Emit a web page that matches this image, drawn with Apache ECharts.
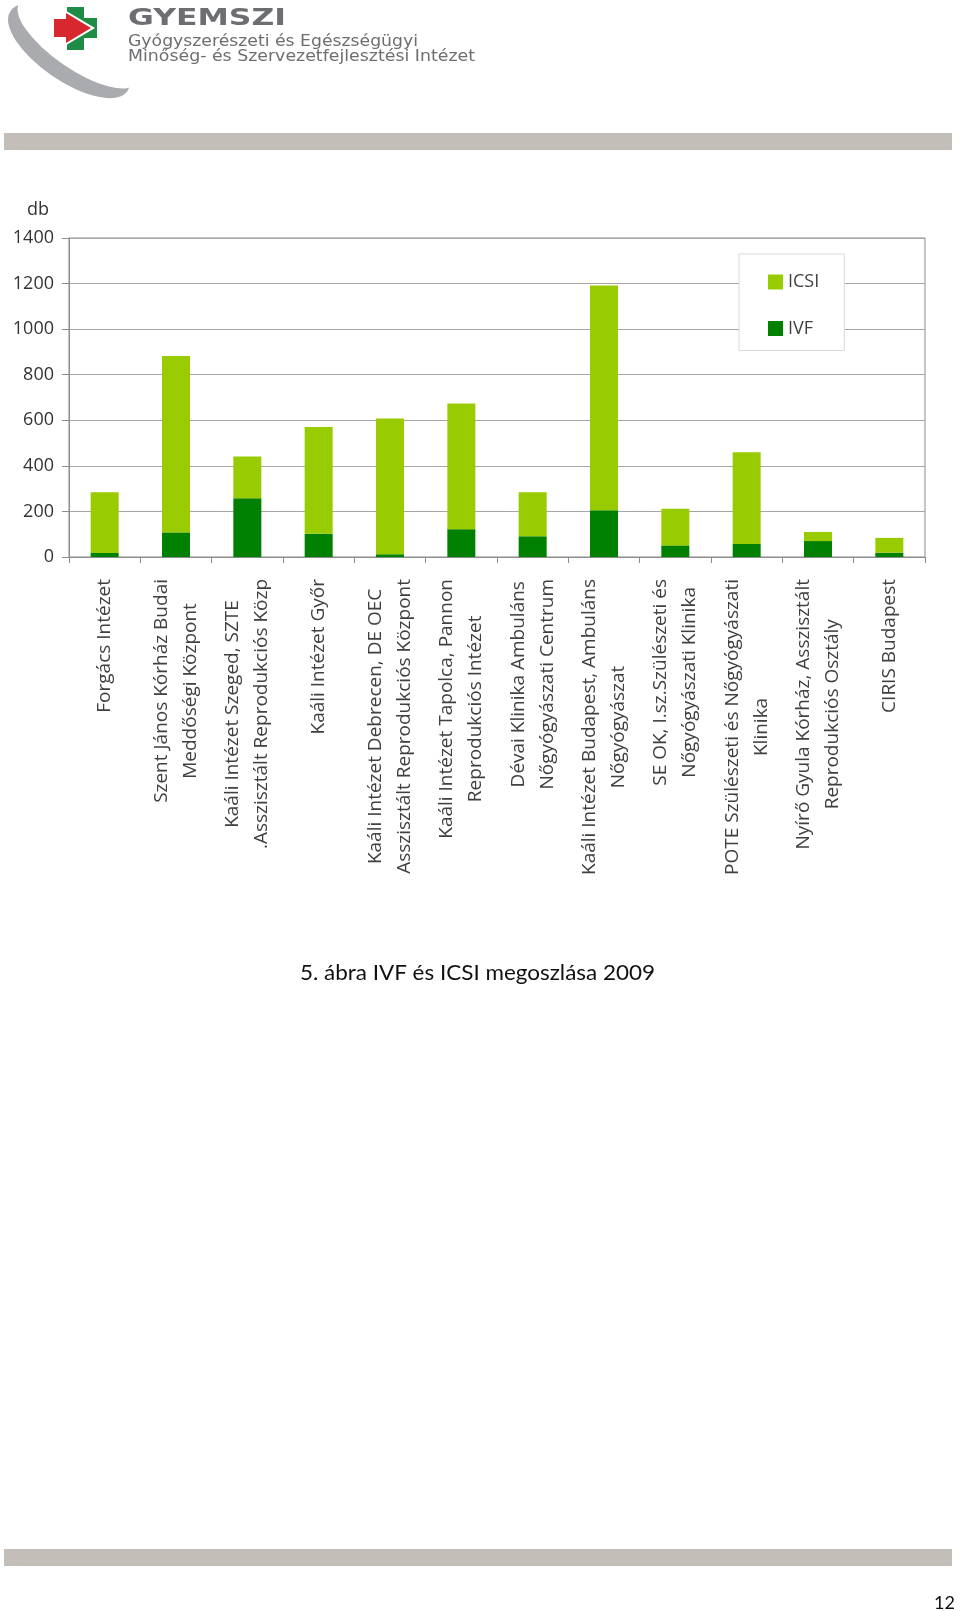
<!DOCTYPE html>
<html>
<head>
<meta charset="utf-8">
<script src="https://cdn.jsdelivr.net/npm/echarts@6/dist/echarts.min.js"></script>
<style>
html,body{margin:0;padding:0;background:#fff;}
#c{width:960px;height:1611px;}
</style>
</head>
<body>
<div id="c"></div>
<script>
// ---- data ----
const categories = [
  'Forgács Intézet',
  'Szent János Kórház Budai\nMeddőségi Központ',
  'Kaáli Intézet Szeged, SZTE\n.Asszisztált Reprodukciós Közp',
  'Kaáli Intézet Győr',
  'Kaáli Intézet Debrecen, DE OEC\nAsszisztált Reprodukciós Központ',
  'Kaáli Intézet Tapolca, Pannon\nReprodukciós Intézet',
  'Dévai Klinika Ambuláns\nNőgyógyászati Centrum',
  'Kaáli Intézet Budapest, Ambuláns\nNőgyógyászat',
  'SE OK, I.sz.Szülészeti és\nNőgyógyászati Klinika',
  'POTE Szülészeti és Nőgyógyászati\nKlinika',
  'Nyírő Gyula Kórház, Asszisztált\nReprodukciós Osztály',
  'CIRIS Budapest'
];
const ivfValues  = [18, 108, 258, 102, 12, 122, 91, 205, 51, 57, 70, 19];
const icsiValues = [266, 774, 183, 468, 596, 552, 193, 987, 161, 403, 40, 65];
const yMin = 0, yMax = 1400, yInterval = 200;
const yAxisName = 'db';
const legendNames = ['ICSI', 'IVF'];
const captionText = '5. ábra IVF és ICSI megoszlása 2009';
const pageNumber = '12';
const orgName = 'GYEMSZI';
const orgLine1 = 'Gyógyszerészeti és Egészségügyi';
const orgLine2 = 'Minőség- és Szervezetfejlesztési Intézet';

// ---- helpers ----
const mctx = document.createElement('canvas').getContext('2d');
function fit(text, font, w) { mctx.font = font; return w / mctx.measureText(text).width; }

const grayText = '#6d6e71';
const fGy = '600 23px "DejaVu Sans"';
const fSub = '15px "DejaVu Sans"';
const fCap = '21px Lato';
const fPg = '18px Lato';
const fDb = '18px "Open Sans"';

const chart = echarts.init(document.getElementById('c'), null, {renderer: 'canvas'});
const option = {
  animation: false,
  backgroundColor: '#ffffff',
  grid: {
    left: 69, top: 238, width: 856, height: 319,
    show: true, borderColor: '#8c8c8c', borderWidth: 1,
    backgroundColor: 'transparent', outerBoundsMode: 'none'
  },
  legend: {
    orient: 'vertical', left: 739, top: 254,
    data: legendNames, icon: 'rect',
    itemWidth: 15, itemHeight: 15, itemGap: 28.5,
    padding: [19, 25, 13, 29],
    backgroundColor: '#ffffff', borderColor: '#d9d9d9', borderWidth: 1, borderRadius: 0,
    textStyle: {fontFamily: 'Open Sans', fontSize: 18, color: '#404040'}
  },
  xAxis: {
    type: 'category', data: categories,
    axisLine: {show: true, lineStyle: {color: '#8c8c8c', width: 1}},
    axisTick: {show: true, length: 6, lineStyle: {color: '#8c8c8c'}},
    splitLine: {show: false},
    axisLabel: {
      interval: 0, rotate: 90, margin: 22,
      color: '#404040', fontFamily: 'Open Sans', fontSize: 19,
      formatter: v => v.split('\n').map(l => '{c|' + l + '}').join('\n'),
      rich: {c: {align: 'center', fontFamily: 'Open Sans', fontSize: 19, lineHeight: 29, color: '#404040'}}
    }
  },
  yAxis: {
    type: 'value', min: yMin, max: yMax, interval: yInterval,
    axisLine: {show: true, lineStyle: {color: '#8c8c8c', width: 1}},
    axisTick: {show: true, length: 7, lineStyle: {color: '#8c8c8c'}},
    splitLine: {show: true, lineStyle: {color: '#a6a6a6', width: 1}},
    axisLabel: {margin: 15, color: '#333333', fontFamily: 'Open Sans', fontSize: 18, formatter: v => String(v)}
  },
  series: [
    {name: 'IVF', type: 'bar', stack: 'total', barWidth: 28, data: ivfValues, itemStyle: {color: '#008000'}},
    {name: 'ICSI', type: 'bar', stack: 'total', barWidth: 28, data: icsiValues, itemStyle: {color: '#99cc00'}}
  ],
  graphic: [
    // header bar and footer bar
    {type: 'rect', shape: {x: 4, y: 133, width: 948, height: 17}, style: {fill: '#c3bfb8'}},
    {type: 'rect', shape: {x: 4, y: 1549, width: 948, height: 17}, style: {fill: '#c3bfb8'}},
    // logo swoosh
    {type: 'circle', shape: {cx: 0, cy: 0, r: 1}, x: 69, y: 51, scaleX: 71, scaleY: 30, rotation: -0.6, style: {fill: '#a9abae'}},
    {type: 'circle', shape: {cx: 0, cy: 0, r: 1}, x: 78, y: 43, scaleX: 71, scaleY: 26, rotation: -0.6, style: {fill: '#ffffff'}},
    // logo cross + arrow
    {type: 'rect', shape: {x: 67, y: 7, width: 17, height: 43}, style: {fill: '#1e8c45'}},
    {type: 'rect', shape: {x: 54, y: 18, width: 43, height: 20}, style: {fill: '#1e8c45'}},
    {type: 'polygon', shape: {points: [[54, 18], [63, 18], [63, 9], [95, 28], [63, 47], [63, 38], [54, 38]]}, style: {fill: '#ffffff'}},
    {type: 'polygon', shape: {points: [[54, 19], [66, 19], [66, 13], [91, 28], [66, 43], [66, 37], [54, 37]]}, style: {fill: '#d7282f'}},
    // logo texts
    {type: 'text', x: 128, y: 19.5, scaleX: fit(orgName, fGy, 158), style: {text: orgName, font: fGy, fill: grayText, verticalAlign: 'middle'}},
    {type: 'text', x: 128, y: 42, scaleX: fit(orgLine1, fSub, 290), style: {text: orgLine1, font: fSub, fill: grayText, verticalAlign: 'middle'}},
    {type: 'text', x: 128, y: 57.3, scaleX: fit(orgLine2, fSub, 347), style: {text: orgLine2, font: fSub, fill: grayText, verticalAlign: 'middle'}},
    // y axis unit
    {type: 'text', x: 27, y: 210, style: {text: yAxisName, font: fDb, fill: '#333333', verticalAlign: 'middle'}},
    // caption
    {type: 'text', x: 477.5, y: 973, scaleX: fit(captionText, fCap, 355), style: {text: captionText, font: fCap, fill: '#111111', align: 'center', verticalAlign: 'middle'}},
    // page number
    {type: 'text', x: 955, y: 1603, style: {text: pageNumber, font: fPg, fill: '#111111', align: 'right', verticalAlign: 'middle'}}
  ]
};
chart.setOption(option);
</script>
</body>
</html>
